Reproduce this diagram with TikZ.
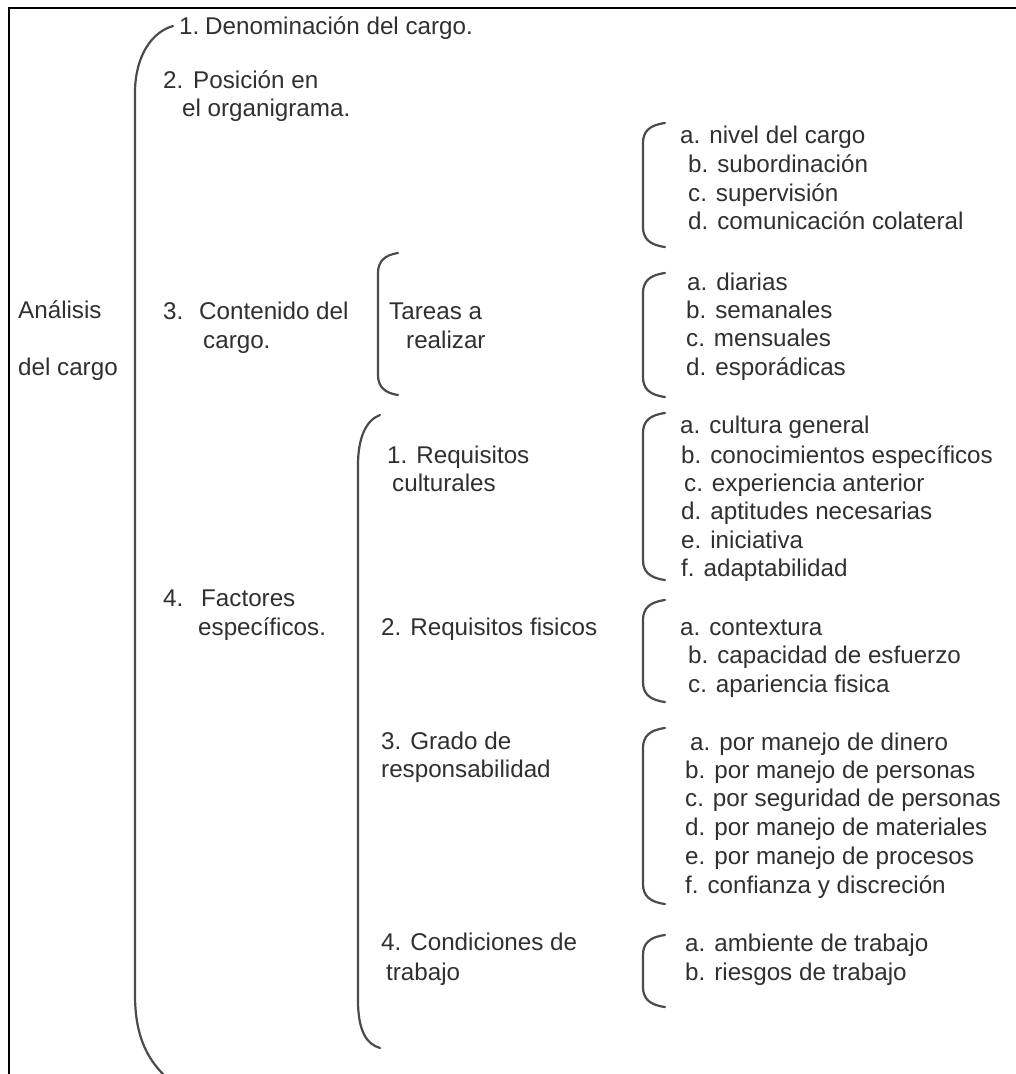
\documentclass[tikz,border=0pt]{standalone}
\usepackage{fontspec}
\setmainfont{Liberation Sans}
\definecolor{ink}{RGB}{48,48,48}
\definecolor{brk}{RGB}{75,75,75}
% square-ish curly bracket: x, top, bottom, hook length
\newcommand\drawbracket[4]{%
  \draw[brk] (#1+#4,#2) .. controls (#1+7,#2+2) and (#1,#2+8) .. (#1,#2+20)
    -- (#1,#3-20) .. controls (#1,#3-8) and (#1+7,#3-2) .. (#1+#4,#3);}
\begin{document}
\begin{tikzpicture}[x=1pt,y=-1pt,
  txt/.style={anchor=base west, inner sep=0pt, font=\fontsize{24.2}{28}\selectfont, text=ink},
  brk/.style={draw=brk, line width=2.2pt, line cap=round},
  frame/.style={draw=black, line width=2.6pt}]
\useasboundingbox (0,0) rectangle (1016,1074);
\fill[white] (0,0) rectangle (1016,1074);

% open frame: top and left edges
\draw[frame] (9,1074) -- (9,8) -- (1016,8);

% outer bracket
\draw[brk] (173,26) .. controls (152,32) and (136,55) .. (135,90)
  -- (135,995) .. controls (135,1040) and (150,1062) .. (167,1078);
% bracket of the specific factors
\draw[brk] (380,415) .. controls (366,420) and (358,438) .. (358,465)
  -- (358,1000) .. controls (358,1030) and (366,1044) .. (380,1048);
% bracket of the tasks
\drawbracket{378}{253}{395}{20}
% brackets of the right-hand lists
\drawbracket{643}{123}{247}{22}
\drawbracket{643}{273}{397}{22}
\drawbracket{643}{413}{580}{22}
\drawbracket{643}{600}{702}{22}
\drawbracket{643}{728}{904}{22}
\drawbracket{643}{935}{1007}{22}

% root
\node[txt] (an1) at (18,318) {Análisis};
\node[txt] (an2) at (18,375) {del cargo};

% main items
\node[txt] (d1) at (179,34) {\makebox[26pt][l]{1.}Denominación del cargo.};
\node[txt] (p1) at (163,88) {\makebox[30pt][l]{2.}Posición en};
\node[txt] (p2) at (182,116) {el organigrama.};
\node[txt] (c1) at (163,319) {\makebox[36pt][l]{3.}Contenido del};
\node[txt] (c2) at (203,348) {cargo.};
\node[txt] (f1) at (163,606) {\makebox[38pt][l]{4.}Factores};
\node[txt] (f2) at (198,635) {específicos.};

% second level
\node[txt] (t1) at (389,319) {Tareas a};
\node[txt] (t2) at (406,348) {realizar};
\node[txt] (r1) at (387,463) {1. Requisitos};
\node[txt] (r2) at (392,491) {culturales};
\node[txt] (rf) at (381,635) {2. Requisitos fisicos};
\node[txt] (g1) at (381,749) {3. Grado de};
\node[txt] (g2) at (381,777) {responsabilidad};
\node[txt] (k1) at (381,950) {4. Condiciones de};
\node[txt] (k2) at (386,980) {trabajo};

% position in the organisation chart
\node[txt] (na) at (680,143) {a. nivel del cargo};
\node[txt] (nb) at (688,172) {b. subordinación};
\node[txt] (nc) at (688,201) {c. supervisión};
\node[txt] (nd) at (688,229) {d. comunicación colateral};

% tasks
\node[txt] (ta) at (687,290) {a. diarias};
\node[txt] (tb) at (686,318) {b. semanales};
\node[txt] (tc) at (686,346) {c. mensuales};
\node[txt] (td) at (686,375) {d. esporádicas};

% cultural requirements
\node[txt] (ca) at (680,433) {a. cultura general};
\node[txt] (cb) at (681,463) {b. conocimientos específicos};
\node[txt] (cc) at (684,491) {c. experiencia anterior};
\node[txt] (cd) at (681,519) {d. aptitudes necesarias};
\node[txt] (ce) at (681,548) {e. iniciativa};
\node[txt] (cf) at (681,576) {f. adaptabilidad};

% physical requirements
\node[txt] (fa) at (680,635) {a. contextura};
\node[txt] (fb) at (688,663) {b. capacidad de esfuerzo};
\node[txt] (fc) at (688,692) {c. apariencia fisica};

% responsibility
\node[txt] (ga) at (690,750) {a. por manejo de dinero};
\node[txt] (gb) at (685,778) {b. por manejo de personas};
\node[txt] (gc) at (685,806) {c. por seguridad de personas};
\node[txt] (gd) at (685,835) {d. por manejo de materiales};
\node[txt] (ge) at (685,864) {e. por manejo de procesos};
\node[txt] (gf) at (685,893) {f. confianza y discreción};

% working conditions
\node[txt] (ka) at (685,951) {a. ambiente de trabajo};
\node[txt] (kb) at (685,980) {b. riesgos de trabajo};
\end{tikzpicture}
\end{document}
